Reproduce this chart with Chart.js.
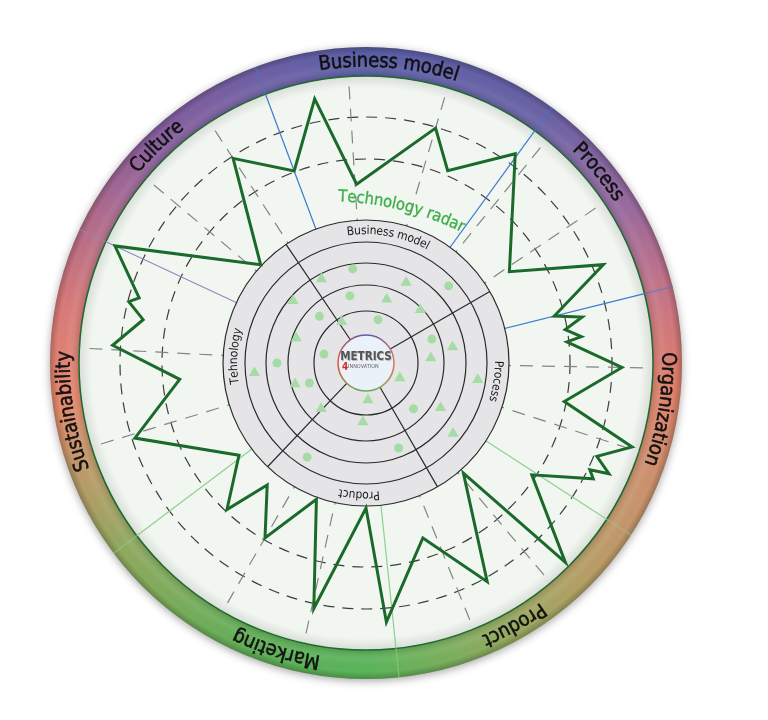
<!DOCTYPE html>
<html>
<head>
<meta charset="utf-8">
<script src="https://cdn.jsdelivr.net/npm/chart.js@4.4.1/dist/chart.umd.min.js"></script>
<style>
  html, body { margin: 0; padding: 0; background: #fff; }
</style>
</head>
<body>
<canvas id="radar" width="768" height="720"></canvas>
<script>
// outer ring categories
var sectorLabels = ["Business model", "Process", "Organization", "Product", "Marketing", "Sustainability", "Culture"];
// quadrants of the inner radar
var quadrantLabels = ["Business model", "Process", "Product", "Tehnology"];

// green outline: angle (deg, clockwise from top) and value
var outlineAngles = [348.9, 357.1, 16.6, 22.8, 35.4, 57.5, 67.3, 76.0, 78.2, 80.3, 82.8, 84.0, 90.9,
  100.9, 107.3, 112.1, 114.4, 115.3, 117.1, 123.8, 135.1, 138.6, 151.1, 162.0, 175.4, 180.0,
  192.2, 200.2, 210.0, 219.1, 223.6, 234.1, 252.2, 265.1, 274.1, 281.2, 284.7, 286.0, 295.2,
  312.8, 327.0, 339.7];
var outlineValues = [269, 179, 245, 209, 257, 170, 257, 194, 221, 202, 217, 202, 256,
  202, 279, 249, 267, 248, 255, 200, 282, 147, 250, 184, 260, 145,
  251, 145, 202, 157, 202, 157, 243, 187, 254, 227, 245, 236, 277,
  144, 244, 205];

// items inside the inner radar
var circleAngles = [352.1, 47.1, 346.6, 315.0, 15.6, 70.0, 282.1, 270.0, 250.3, 133.8, 158.8, 212.1];
var circleValues = [95, 113, 69, 66, 45, 70, 43, 89, 60, 66, 91, 111];
var triangleAngles = [331.8, 26.3, 310.3, 18.2, 45.5, 329.7, 289.7, 79.6, 85.6, 264.9, 98.6, 113.8,
  253.5, 224.4, 176.9, 121.0, 182.9, 128.8];
var triangleValues = [95, 90, 96, 67, 76, 48, 74, 88, 65, 112, 113, 37, 74, 64, 37, 87, 59, 112];

var gridValues = [204, 246];
var spokeAngles = [356.5, 16.5, 39, 56, 91, 108, 140, 158, 192.5, 210, 253, 273, 310, 327];
var sectorAngles = [339.5, 36, 76, 123, 174, 233, 295];
var innerRings = [52, 78, 100, 121];
var dividerAngles = [326, 60, 150, 223.5];

// layout
var STEPS = 720;
var MAXV = 287, RING_OUT = 316, DISC = 143, LOGO = 28;
var sectorLabelAngles = [4.4, 50.6, 98.9, 150.5, 197.4, 260.7, 316];
var quadrantLabelAngles = [10, 98, 183, 273];
var sectorColors = ["#3b7bd0", "#3b7bd0", "#3b7bd0", "#8fd08f", "#8fd08f", "#8fd08f", "#8c8cc4"];

function slot(a) { return Math.round(a * STEPS / 360) % STEPS; }
function toSlots(angles, values) {
  var arr = new Array(STEPS).fill(null);
  angles.forEach(function (a, i) { arr[slot(a)] = values[i]; });
  return arr;
}

var spokeStyles = {};
spokeAngles.forEach(function (a) { spokeStyles[slot(a)] = { color: "#858585", width: 1.2, dash: [13, 9] }; });
sectorAngles.forEach(function (a, i) { spokeStyles[slot(a)] = { color: sectorColors[i], width: 1.2, dash: [] }; });

var labels = [];
for (var i = 0; i < STEPS; i++) labels.push("");

var FONT = '"DejaVu Sans Condensed", "DejaVu Sans", sans-serif';

// writes text along an arc, clockwise, letter tops pointing outward
function arcText(ctx, text, cx, cy, r, midDeg, heavy) {
  var widths = [], total = 0;
  for (var ch of text) { var w = ctx.measureText(ch).width; widths.push(w); total += w; }
  var a = midDeg * Math.PI / 180 - total / 2 / r;
  var k = 0;
  for (var ch of text) {
    var w = widths[k++];
    var ang = a + w / 2 / r;
    ctx.save();
    ctx.translate(cx + r * Math.sin(ang), cy - r * Math.cos(ang));
    ctx.rotate(ang);
    ctx.fillText(ch, 0, 0);
    if (heavy) ctx.strokeText(ch, 0, 0);
    ctx.restore();
    a += w / r;
  }
}

function polar(s, deg, v) {
  var d = s.getDistanceFromCenterForValue(v), a = deg * Math.PI / 180;
  return { x: s.xCenter + d * Math.sin(a), y: s.yCenter - d * Math.cos(a) };
}

var decor = {
  id: "decor",
  beforeDraw: function (chart) {
    var s = chart.scales.r, ctx = chart.ctx;
    var cx = s.xCenter, cy = s.yCenter;
    var rOut = s.getDistanceFromCenterForValue(RING_OUT), rIn = s.getDistanceFromCenterForValue(MAXV);
    ctx.save();
    var g = ctx.createConicGradient(-Math.PI / 2, cx, cy);
    [[0, "#5b5fa8"], [0.1, "#6a62a6"], [0.165, "#9a6a9e"], [0.21, "#c47488"], [0.26, "#e2806c"],
     [0.305, "#d09070"], [0.37, "#b89e66"], [0.42, "#98aa60"], [0.5, "#5ab55a"], [0.56, "#60b058"],
     [0.645, "#90aa60"], [0.695, "#c09a6a"], [0.73, "#e88a6e"], [0.78, "#d97a7a"], [0.875, "#8a5f9d"],
     [0.95, "#6c60a6"], [1, "#5b5fa8"]].forEach(function (st) { g.addColorStop(st[0], st[1]); });
    ctx.shadowColor = "rgba(0,0,0,0.35)";
    ctx.shadowBlur = 9;
    ctx.shadowOffsetY = 2;
    ctx.fillStyle = g;
    ctx.beginPath(); ctx.arc(cx, cy, rOut, 0, 2 * Math.PI); ctx.fill();
    ctx.shadowColor = "transparent";
    // ring shading
    var sh = ctx.createRadialGradient(cx, cy, rIn, cx, cy, rOut);
    sh.addColorStop(0, "rgba(0,0,0,0.15)");
    sh.addColorStop(0.35, "rgba(255,255,255,0.06)");
    sh.addColorStop(0.75, "rgba(0,0,0,0)");
    sh.addColorStop(1, "rgba(0,0,0,0.22)");
    ctx.fillStyle = sh;
    ctx.beginPath(); ctx.arc(cx, cy, rOut, 0, 2 * Math.PI); ctx.arc(cx, cy, rIn, 0, 2 * Math.PI, true); ctx.fill();
    // inner disc
    ctx.fillStyle = "#f1f7f0";
    ctx.beginPath(); ctx.arc(cx, cy, rIn, 0, 2 * Math.PI); ctx.fill();
    var ie = ctx.createRadialGradient(cx, cy, rIn - 12, cx, cy, rIn);
    ie.addColorStop(0, "rgba(0,0,0,0)");
    ie.addColorStop(1, "rgba(0,0,0,0.10)");
    ctx.fillStyle = ie;
    ctx.beginPath(); ctx.arc(cx, cy, rIn, 0, 2 * Math.PI); ctx.fill();
    ctx.strokeStyle = "#1d6a2e";
    ctx.lineWidth = 1.5;
    ctx.beginPath(); ctx.arc(cx, cy, rIn, 0, 2 * Math.PI); ctx.stroke();
    ctx.restore();
  },
  beforeDatasetsDraw: function (chart) {
    var s = chart.scales.r, ctx = chart.ctx;
    var cx = s.xCenter, cy = s.yCenter;
    var R = function (v) { return s.getDistanceFromCenterForValue(v); };
    ctx.save();
    // separators across the ring
    sectorAngles.forEach(function (a, i) {
      var p1 = polar(s, a, MAXV), p2 = polar(s, a, RING_OUT);
      ctx.strokeStyle = sectorColors[i];
      ctx.globalAlpha = 0.6;
      ctx.lineWidth = 1.2;
      ctx.beginPath(); ctx.moveTo(p1.x, p1.y); ctx.lineTo(p2.x, p2.y); ctx.stroke();
    });
    ctx.globalAlpha = 1;
    // ring labels
    ctx.fillStyle = "#111";
    ctx.strokeStyle = "#111";
    ctx.lineWidth = 0.5;
    ctx.font = "20px " + FONT;
    ctx.textAlign = "center";
    ctx.textBaseline = "middle";
    sectorLabels.forEach(function (t, i) { arcText(ctx, t, cx, cy, R(301.5), sectorLabelAngles[i], true); });
    // title
    ctx.fillStyle = "#3dae4a";
    ctx.strokeStyle = "#3dae4a";
    ctx.lineWidth = 0.3;
    ctx.font = "16.5px " + FONT;
    arcText(ctx, "Technology radar", cx - 36, cy + 134, 300, 14, true);
    // inner radar disc
    ctx.fillStyle = "#e5e5e7";
    ctx.strokeStyle = "#2a2a2a";
    ctx.lineWidth = 1.2;
    ctx.beginPath(); ctx.arc(cx, cy, R(DISC), 0, 2 * Math.PI); ctx.fill(); ctx.stroke();
    innerRings.forEach(function (v) {
      ctx.beginPath(); ctx.arc(cx, cy, R(v), 0, 2 * Math.PI); ctx.stroke();
    });
    dividerAngles.forEach(function (a) {
      var p1 = polar(s, a, LOGO), p2 = polar(s, a, DISC);
      ctx.beginPath(); ctx.moveTo(p1.x, p1.y); ctx.lineTo(p2.x, p2.y); ctx.stroke();
    });
    ctx.fillStyle = "#1a1a1a";
    ctx.font = "12px " + FONT;
    quadrantLabels.forEach(function (t, i) { arcText(ctx, t, cx, cy, R(132), quadrantLabelAngles[i], false); });
    // logo
    var lg = ctx.createConicGradient(-Math.PI / 2, cx, cy);
    lg.addColorStop(0, "#5b5fa8"); lg.addColorStop(0.25, "#e07a5a"); lg.addColorStop(0.5, "#5ab55a");
    lg.addColorStop(0.75, "#e05a4a"); lg.addColorStop(1, "#5b5fa8");
    ctx.fillStyle = "#eaf1f8";
    ctx.strokeStyle = lg;
    ctx.lineWidth = 1.6;
    ctx.beginPath(); ctx.arc(cx, cy, R(LOGO), 0, 2 * Math.PI); ctx.fill(); ctx.stroke();
    ctx.textAlign = "center";
    ctx.font = "bold 11.5px " + FONT;
    ctx.fillStyle = "#bbb";
    ctx.fillText("METRICS", cx + 0.8, cy - 5);
    ctx.fillStyle = "#555";
    ctx.fillText("METRICS", cx, cy - 6);
    ctx.textAlign = "left";
    ctx.font = "bold 10px " + FONT;
    ctx.fillStyle = "#d42a2a";
    ctx.fillText("4", cx - 24, cy + 4);
    ctx.font = "5.5px " + FONT;
    ctx.fillStyle = "#666";
    ctx.fillText("INNOVATION", cx - 18, cy + 4);
    ctx.restore();
  }
};

var ctx = document.getElementById("radar").getContext("2d");
var chart = new Chart(ctx, {
  type: "radar",
  data: {
    labels: labels,
    datasets: [
      {
        label: "circles",
        data: toSlots(circleAngles, circleValues),
        showLine: false,
        pointStyle: "circle",
        pointRadius: 4.5,
        pointBackgroundColor: "#a6dba6",
        pointBorderWidth: 0,
        backgroundColor: "rgba(0,0,0,0)"
      },
      {
        label: "triangles",
        data: toSlots(triangleAngles, triangleValues),
        showLine: false,
        pointStyle: "triangle",
        pointRadius: 6.5,
        pointBackgroundColor: "#a6dba6",
        pointBorderWidth: 0,
        backgroundColor: "rgba(0,0,0,0)"
      },
      {
        label: "Technology radar",
        data: toSlots(outlineAngles, outlineValues),
        borderColor: "#1b6a2b",
        borderWidth: 3,
        borderJoinStyle: "miter",
        backgroundColor: "rgba(0,0,0,0)",
        fill: false,
        spanGaps: true,
        tension: 0,
        pointRadius: 0
      }
    ]
  },
  options: {
    responsive: false,
    animation: false,
    events: [],
    layout: { padding: { left: 79, right: 115, top: 76, bottom: 70 } },
    plugins: { legend: { display: false }, tooltip: { enabled: false } },
    scales: {
      r: {
        min: 0,
        max: MAXV,
        afterBuildTicks: function (scale) {
          scale.ticks = [{ value: 0 }].concat(gridValues.map(function (v) { return { value: v }; }));
        },
        ticks: { display: false },
        pointLabels: { display: false },
        grid: { circular: true, color: "#3d3d3d", lineWidth: 1.2 },
        border: { dash: [11, 8] },
        angleLines: {
          display: true,
          color: function (c) { var st = spokeStyles[c.index]; return st ? st.color : "rgba(0,0,0,0)"; },
          lineWidth: function (c) { return spokeStyles[c.index] ? spokeStyles[c.index].width : 0; },
          borderDash: function (c) { var st = spokeStyles[c.index]; return st ? st.dash : []; }
        }
      }
    }
  },
  plugins: [decor]
});
</script>
</body>
</html>
